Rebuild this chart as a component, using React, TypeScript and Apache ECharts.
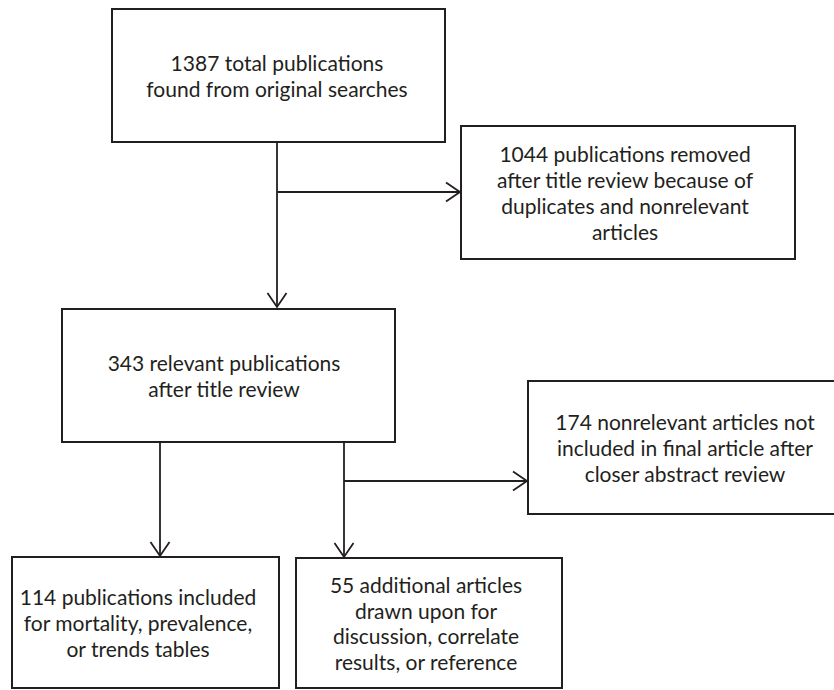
import React, { useEffect, useRef } from "react";
import * as echarts from "echarts";

// Box texts (one entry per box)
const boxLabels: string[] = [
  "1387 total publications\nfound from original searches",
  "1044 publications removed\nafter title review because of\nduplicates and nonrelevant\narticles",
  "343 relevant publications\nafter title review",
  "174 nonrelevant articles not\nincluded in final article after\ncloser abstract review",
  "114 publications included\nfor mortality, prevalence,\nor trends tables",
  "55 additional articles\ndrawn upon for\ndiscussion, correlate\nresults, or reference",
];

// Box geometry [x0, y0, x1, y1, textCenterX]
const boxGeom: number[][] = [
  [112, 9, 445, 142, 277],
  [461, 126, 795, 259, 625],
  [62, 309, 395, 442, 224],
  [528, 381, 842, 514, 685],
  [12, 557, 279, 688, 138],
  [296, 558, 562, 688, 426],
];

// connectors: polyline points, last point gets an arrow; direction "down" | "right"
const connectors: { pts: number[][]; dir: string }[] = [
  { pts: [[277, 142], [277, 307]], dir: "down" },
  { pts: [[277, 192], [460, 192]], dir: "right" },
  { pts: [[160, 442], [160, 556]], dir: "down" },
  { pts: [[344, 442], [344, 557]], dir: "down" },
  { pts: [[344, 481], [527, 481]], dir: "right" },
];

const INK = "#231f20";

export default function App() {
  const ref = useRef<HTMLDivElement>(null);
  useEffect(() => {
    document.body.style.margin = "0";
    const chart = echarts.init(ref.current!, null, { renderer: "svg" });
    const elements: any[] = [];
    boxGeom.forEach((g, i) => {
      const [x0, y0, x1, y1, tx] = g;
      elements.push({
        type: "rect",
        shape: { x: x0, y: y0, width: x1 - x0, height: y1 - y0 },
        style: { fill: "#fff", stroke: INK, lineWidth: 2 },
      });
      elements.push({
        type: "text",
        x: tx,
        y: (y0 + y1) / 2,
        style: {
          text: boxLabels[i],
          fill: INK,
          fontFamily: "Lato",
          fontSize: 21,
          align: "center",
          verticalAlign: "middle",
          lineHeight: 25.7,
        },
      });
    });
    connectors.forEach((c) => {
      elements.push({
        type: "polyline",
        shape: { points: c.pts },
        style: { stroke: INK, lineWidth: 1.8, fill: null },
      });
      const [ex, ey] = c.pts[c.pts.length - 1];
      const L = 14, W = 9.5;
      const head =
        c.dir === "down"
          ? [[ex - W, ey - L], [ex, ey], [ex + W, ey - L]]
          : [[ex - L, ey - W], [ex, ey], [ex - L, ey + W]];
      elements.push({
        type: "polyline",
        shape: { points: head },
        style: { stroke: INK, lineWidth: 1.8, fill: null },
      });
    });
    chart.setOption({ animation: false, graphic: { elements } });
    return () => chart.dispose();
  }, []);
  return <div ref={ref} style={{ width: 834, height: 690, background: "#fff" }} />;
}
